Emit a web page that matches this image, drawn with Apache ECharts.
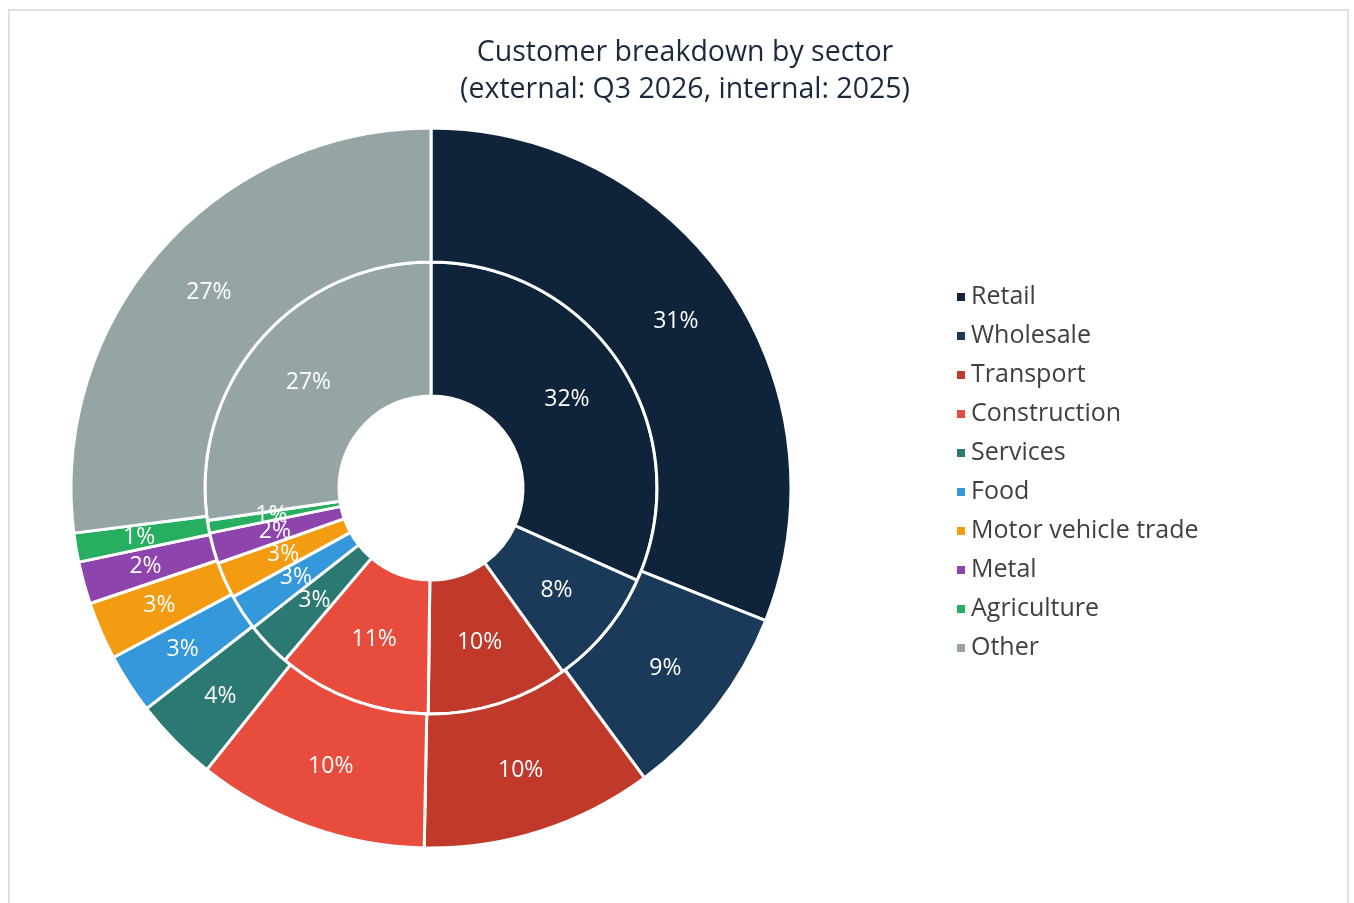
<!DOCTYPE html>
<html>
<head>
<meta charset="utf-8">
<script src="https://cdn.jsdelivr.net/npm/echarts@6/dist/echarts.min.js"></script>
<style>
html,body{margin:0;padding:0;background:#fff;}
#frame{position:absolute;left:8px;top:9px;width:1341px;height:920px;border:2px solid #e0e0e0;box-sizing:border-box;}
#chart{position:absolute;left:0;top:0;width:1354px;height:903px;}
</style>
</head>
<body>
<div id="frame"></div>
<div id="chart"></div>
<script>
const categories = ['Retail','Wholesale','Transport','Construction','Services','Food','Motor vehicle trade','Metal','Agriculture','Other'];
const colors = ['#0f243a','#1b3a5a','#c0392b','#e74c3c','#2c7873','#3498db','#f39c12','#8e44ad','#27ae60','#95a5a6'];
const external2026 = [31.0, 8.9, 10.4, 10.4, 3.8, 2.7, 2.6, 1.9, 1.3, 27.0];
const internal2025 = [31.7, 8.4, 10.1, 11.0, 3.2, 2.6, 2.6, 2.2, 0.9, 27.3];
const titleLines = ['Customer breakdown by sector', '(external: Q3 2026, internal: 2025)'];

const FONT = 'Open Sans';
function mk(vals){ return categories.map((c,i)=>({name:c, value:vals[i], itemStyle:{color:colors[i]}})); }
const labelCfg = {
  show:true, position:'inside', color:'#ffffff', fontFamily:FONT, fontSize:23,
  formatter: p => Math.round(p.value) + '%'
};
const chart = echarts.init(document.getElementById('chart'));
chart.setOption({
  animation:false,
  title:{
    text: titleLines.join('\n'), left:680, textAlign:'center', top:29,
    textStyle:{fontFamily:FONT, fontSize:28.5, fontWeight:'normal', color:'#1b2a3a', lineHeight:37}
  },
  legend:{
    orient:'vertical', left:950, top:279, icon:'rect', itemWidth:10, itemHeight:10, itemGap:13,
    data:categories,
    textStyle:{fontFamily:FONT, fontSize:25, color:'#404040', lineHeight:26, padding:[0,0,0,0]}
  },
  series:[
    {
      name:'2025', type:'pie', center:[431,488], radius:[92,226], startAngle:90, clockwise:true,
      avoidLabelOverlap:false, itemStyle:{borderColor:'#fff', borderWidth:3},
      labelLayout:{hideOverlap:false},
      label:labelCfg, labelLine:{show:false}, data:mk(internal2025)
    },
    {
      name:'Q3 2026', type:'pie', center:[431,488], radius:[226,360], startAngle:90, clockwise:true,
      avoidLabelOverlap:false, itemStyle:{borderColor:'#fff', borderWidth:3},
      labelLayout:{hideOverlap:false},
      label:labelCfg, labelLine:{show:false}, data:mk(external2026)
    }
  ]
});
</script>
</body>
</html>
